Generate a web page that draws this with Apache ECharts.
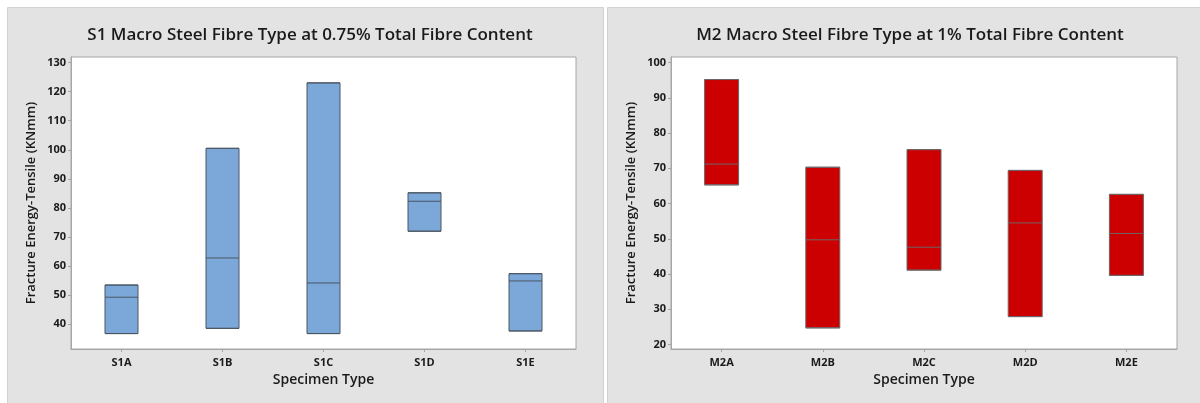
<!DOCTYPE html>
<html>
<head>
<meta charset="utf-8">
<style>
  html, body { margin: 0; padding: 0; background: #ffffff; }
  #chart { width: 1200px; height: 403px; }
</style>
<script src="https://cdn.jsdelivr.net/npm/echarts@6/dist/echarts.min.js"></script>
</head>
<body>
<div id="chart"></div>
<script>
// S1 specimens, 0.75% total fibre content
const s1Categories = ['S1A', 'S1B', 'S1C', 'S1D', 'S1E'];
const s1Low    = [36.8, 38.6, 36.8, 72.0, 37.7];
const s1Median = [49.3, 62.8, 54.2, 82.3, 54.9];
const s1High   = [53.5, 100.5, 123.0, 85.2, 57.4];
const s1Ticks  = [40, 50, 60, 70, 80, 90, 100, 110, 120, 130];

// M2 specimens, 1% total fibre content
const m2Categories = ['M2A', 'M2B', 'M2C', 'M2D', 'M2E'];
const m2Low    = [65.3, 24.7, 41.1, 27.9, 39.6];
const m2Median = [71.2, 49.7, 47.6, 54.5, 51.5];
const m2High   = [95.2, 70.3, 75.3, 69.4, 62.6];
const m2Ticks  = [20, 30, 40, 50, 60, 70, 80, 90, 100];

const FONT = '"Open Sans", "Noto Sans", sans-serif';

// range box with a median line: [min, Q1, median, Q3, max] with no whiskers
function boxes(low, med, high) {
  return low.map((l, i) => [l, l, med[i], high[i], high[i]]);
}

function xAxis(gridIndex, cats) {
  return {
    type: 'category', gridIndex, data: cats,
    boundaryGap: true,
    name: 'Specimen Type', nameLocation: 'middle', nameGap: 22,
    nameTextStyle: { fontFamily: FONT, fontSize: 14, fontWeight: 600, color: '#1a1a1a' },
    axisLine: { show: true, lineStyle: { color: '#a6a6a6', width: 1 } },
    axisTick: { show: true, alignWithLabel: true, length: 3, lineStyle: { color: '#a6a6a6' } },
    axisLabel: { margin: 8, fontFamily: FONT, fontSize: 11, fontWeight: 700, color: '#1a1a1a' },
    splitLine: { show: false }
  };
}

function yAxis(gridIndex, min, max, ticks) {
  return {
    type: 'value', gridIndex, min, max,
    name: 'Fracture Energy-Tensile (KNmm)', nameLocation: 'middle', nameGap: 33,
    nameTextStyle: { fontFamily: FONT, fontSize: 13, fontWeight: 600, color: '#1a1a1a' },
    axisLine: { show: true, lineStyle: { color: '#a6a6a6', width: 1 } },
    axisTick: { show: true, length: 3, customValues: ticks, lineStyle: { color: '#a6a6a6' } },
    axisLabel: { margin: 5, customValues: ticks, fontFamily: FONT, fontSize: 11, fontWeight: 700, color: '#1a1a1a' },
    splitLine: { show: false }
  };
}

const chart = echarts.init(document.getElementById('chart'), null, { renderer: 'canvas' });

chart.setOption({
  animation: false,
  backgroundColor: '#ffffff',
  graphic: [
    { type: 'rect', z: -10, shape: { x: 7.5, y: 7.5, width: 596, height: 400 },
      style: { fill: '#e3e3e3', stroke: '#d2d2d2', lineWidth: 1 } },
    { type: 'rect', z: -10, shape: { x: 607.5, y: 7.5, width: 600, height: 400 },
      style: { fill: '#e3e3e3', stroke: '#d2d2d2', lineWidth: 1 } }
  ],
  title: [
    { text: 'S1 Macro Steel Fibre Type at 0.75% Total Fibre Content',
      left: 305, top: 22, textAlign: 'center',
      textStyle: { fontFamily: FONT, fontSize: 17, fontWeight: 600, color: '#1a1a1a' } },
    { text: 'M2 Macro Steel Fibre Type at 1% Total Fibre Content',
      left: 905, top: 22, textAlign: 'center',
      textStyle: { fontFamily: FONT, fontSize: 17, fontWeight: 600, color: '#1a1a1a' } }
  ],
  grid: [
    { left: 71, top: 57, width: 505, height: 292, show: true,
      backgroundColor: '#ffffff', borderColor: '#a6a6a6', borderWidth: 1 },
    { left: 671, top: 57, width: 506, height: 292, show: true,
      backgroundColor: '#ffffff', borderColor: '#a6a6a6', borderWidth: 1 }
  ],
  xAxis: [xAxis(0, s1Categories), xAxis(1, m2Categories)],
  yAxis: [yAxis(0, 31.5, 131.9, s1Ticks), yAxis(1, 18.7, 101.6, m2Ticks)],
  series: [
    { type: 'boxplot', xAxisIndex: 0, yAxisIndex: 0, boxWidth: [33, 33],
      data: boxes(s1Low, s1Median, s1High),
      itemStyle: { color: '#7ba7d9', borderColor: '#4b5663', borderWidth: 1 } },
    { type: 'boxplot', xAxisIndex: 1, yAxisIndex: 1, boxWidth: [34, 34],
      data: boxes(m2Low, m2Median, m2High),
      itemStyle: { color: '#cc0000', borderColor: '#6e6466', borderWidth: 1 } }
  ]
});
</script>
</body>
</html>
